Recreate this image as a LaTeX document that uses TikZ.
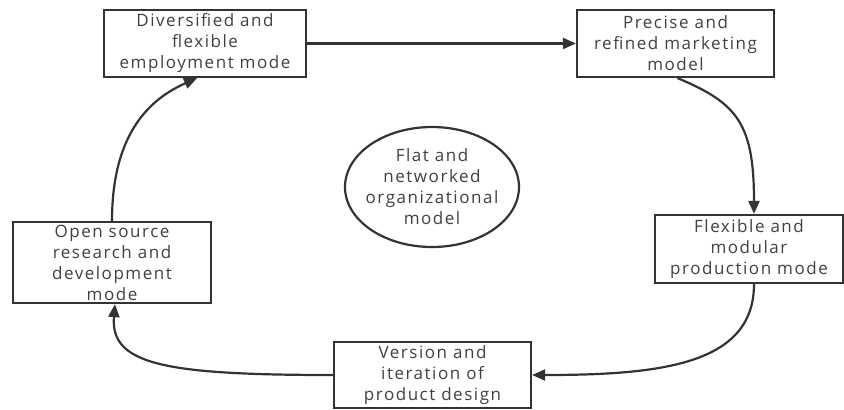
\documentclass[tikz,border=0pt]{standalone}
\usepackage{fontspec}
\setmainfont[LetterSpace=9]{Open Sans}
\usetikzlibrary{arrows.meta,shapes.geometric}
\definecolor{ln}{HTML}{333333}
\definecolor{tx}{HTML}{404040}
\tikzset{
  boxst/.style={draw=ln, line width=2.2bp, rectangle, inner sep=0pt, text=tx, align=center, font=\fontsize{17bp}{21bp}\selectfont},
  conn/.style={draw=ln, line width=2.2bp, -{Triangle[length=13bp,width=11bp]}},
}
\begin{document}
\begin{tikzpicture}[x=1bp,y=-1bp]
\useasboundingbox (0,0) rectangle (844,409);
\node[boxst, minimum width=202bp, minimum height=67bp] (b1) at (205,43.5) {Diversified and\\flexible\\employment mode};
\node[boxst, minimum width=197bp, minimum height=67bp] (b2) at (675.5,43.5) {Precise and\\refined marketing\\model};
\node[boxst, minimum width=188bp, minimum height=68bp] (b3) at (749,249) {Flexible and\\modular\\production mode};
\node[boxst, minimum width=197bp, minimum height=66bp] (b4) at (432.5,375) {Version and\\iteration of\\product design};
\node[boxst, minimum width=198bp, minimum height=81bp] (b5) at (112,262.5) {Open source\\research and\\development\\mode};
\node[boxst, ellipse, minimum width=174bp, minimum height=120bp, inner sep=-8bp] (e) at (432,187) {Flat and\\networked\\organizational\\model};
\coordinate (c2s) at ([xshift=2bp]b2.south);
\coordinate (c3n) at ([xshift=5bp]b3.north);
\coordinate (c3s) at ([xshift=5bp]b3.south);
\coordinate (c5s) at ([xshift=3bp]b5.south);
\coordinate (c1s) at ([xshift=-8bp]b1.south);
\draw[conn] (b1.east) -- (b2.west);
\draw[conn] (c2s) .. controls +(60,25) and +(0,-90) .. (c3n);
\draw[conn] (c3s) .. controls +(0,80) and +(130,0) .. (b4.east);
\draw[conn] (b4.west) .. controls +(-170,0) and +(-5,60) .. (c5s);
\draw[conn] (b5.north) .. controls +(0,-90) and +(-45,20) .. (c1s);
\end{tikzpicture}
\end{document}
